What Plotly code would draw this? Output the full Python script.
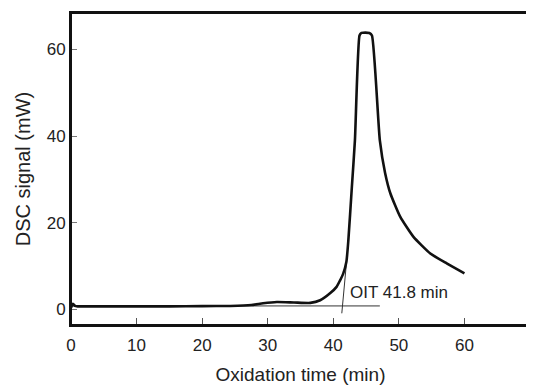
import plotly.graph_objects as go

# DSC curve
time_min = [0, 0.3, 0.6, 1.0, 2, 5, 10, 15, 20, 24.3, 27.5, 29.3, 31.4, 34, 36.5, 38.0,
            39.5, 40.5, 41.0, 41.5, 42.0, 42.3, 42.8, 43.3, 44.0, 44.3, 45.5, 45.9,
            47.1, 47.9, 48.7, 50.2, 52.2, 54.8, 57.3, 60.0]
dsc_mw = [0.4, 1.3, 0.8, 0.7, 0.7, 0.7, 0.7, 0.7, 0.75, 0.8, 1.0, 1.4, 1.7, 1.6, 1.5, 2.1,
          3.7, 5.2, 6.6, 8.2, 11.0, 16, 27.5, 39, 63.2, 63.8, 63.8, 63.2,
          39, 31.5, 26.8, 21.4, 16.8, 12.9, 10.6, 8.3]

# OIT construction lines
baseline_x = [0, 47.1]
baseline_y = [0.8, 0.8]
tangent_x = [42.0, 41.3]
tangent_y = [10.6, -0.9]
oit_label = "OIT 41.8 min"
oit_label_pos = (42.3, 3.8)

x_ticks = [0, 10, 20, 30, 40, 50, 60, 70]
y_ticks = [0, 20, 40, 60]

font_family = "Arial, Liberation Sans, sans-serif"

fig = go.Figure()
fig.add_trace(go.Scatter(x=baseline_x, y=baseline_y, mode="lines",
                         line=dict(color="#333333", width=1), showlegend=False))
fig.add_trace(go.Scatter(x=tangent_x, y=tangent_y, mode="lines",
                         line=dict(color="#333333", width=1), showlegend=False))
fig.add_trace(go.Scatter(x=time_min, y=dsc_mw, mode="lines",
                         line=dict(color="#111111", width=2.6, shape="spline", smoothing=0.5),
                         showlegend=False))

fig.add_annotation(x=oit_label_pos[0], y=oit_label_pos[1], text=oit_label,
                   showarrow=False, xanchor="left", yanchor="middle",
                   font=dict(family=font_family, size=17, color="#222222"))

# plot frame
fig.add_shape(type="rect", xref="paper", yref="paper", x0=0, x1=1, y0=0, y1=1,
              line=dict(color="#111111", width=2), layer="above")

# the page body adds an 8px offset, so the figure is sized to fit the window
fig.update_layout(
    width=526, height=377,
    margin=dict(l=63, r=4, t=5, b=60),
    paper_bgcolor="white", plot_bgcolor="white",
    font=dict(family=font_family, color="#222222"),
)
fig.update_xaxes(
    range=[0, 70], tickvals=x_ticks, ticks="inside", ticklen=7, tickcolor="#555555",
    showline=True, linecolor="#111111", linewidth=2, mirror=True,
    showgrid=False, zeroline=False, tickfont=dict(size=17),
    ticklabelstandoff=4, automargin=False,
    title=dict(text="Oxidation time (min)", font=dict(size=19), standoff=16),
)
fig.update_yaxes(
    range=[-3.6, 68.4], tickvals=y_ticks, ticks="inside", ticklen=6, tickcolor="#777777",
    showline=True, linecolor="#111111", linewidth=2, mirror=True,
    showgrid=False, zeroline=False, tickfont=dict(size=17),
    ticklabelstandoff=0, automargin=False,
    title=dict(text="DSC signal (mW)", font=dict(size=20), standoff=11),
)

fig.write_html("out.html")
